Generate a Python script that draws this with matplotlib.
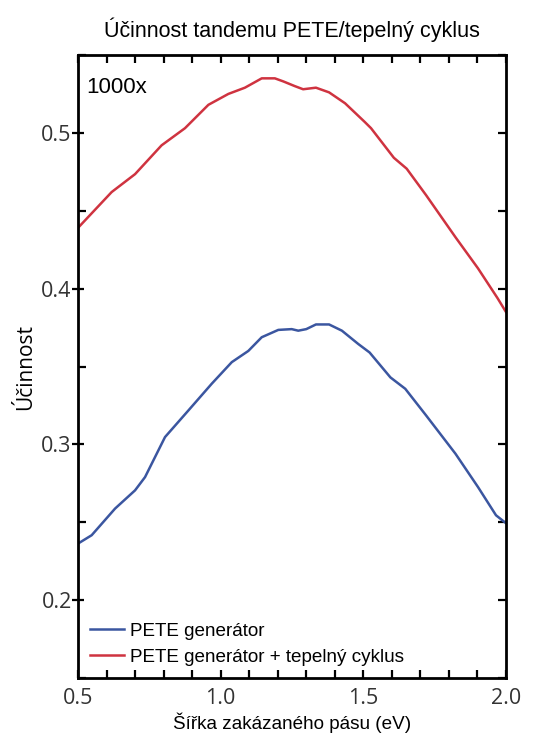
import numpy as np
import matplotlib
matplotlib.use("Agg")
import matplotlib.pyplot as plt
import matplotlib.markers as mmarkers
from matplotlib.ticker import MultipleLocator

# band gap (eV) and efficiency
gap_tandem = [0.50, 0.618, 0.70, 0.793, 0.875, 0.957, 1.027, 1.085, 1.144, 1.19,
              1.22, 1.26, 1.289, 1.334, 1.38, 1.436, 1.505, 1.527, 1.607, 1.652,
              1.72, 1.823, 1.902, 1.97, 2.0]
eff_tandem = [0.439, 0.462, 0.4735, 0.492, 0.503, 0.518, 0.525, 0.529, 0.535, 0.535,
              0.533, 0.530, 0.528, 0.529, 0.526, 0.519, 0.507, 0.503, 0.484, 0.477,
              0.460, 0.433, 0.413, 0.394, 0.385]

gap_pete = [0.50, 0.548, 0.63, 0.70, 0.735, 0.805, 0.887, 0.969, 1.039, 1.097,
            1.144, 1.202, 1.249, 1.272, 1.30, 1.334, 1.38, 1.425, 1.482, 1.522,
            1.595, 1.647, 1.72, 1.823, 1.902, 1.965, 2.0]
eff_pete = [0.2363, 0.2417, 0.2588, 0.2705, 0.279, 0.3047, 0.3218, 0.339, 0.3528, 0.360,
            0.3688, 0.3735, 0.374, 0.373, 0.374, 0.377, 0.377, 0.373, 0.3645, 0.359,
            0.343, 0.3357, 0.3186, 0.294, 0.2726, 0.2545, 0.2494]

blue = "#3b56a0"
red = "#cf3340"
arial = "Liberation Sans"
tickfont = "Open Sans"

fig = plt.figure(figsize=(5.36, 7.37), dpi=100)
ax = fig.add_axes([0.1455, 0.080, 0.7985, 0.8454])

ax.plot(gap_pete, eff_pete, color=blue, linewidth=1.8, label="PETE generátor")
ax.plot(gap_tandem, eff_tandem, color=red, linewidth=1.8,
        label="PETE generátor + tepelný cyklus")

ax.set_xlim(0.5, 2.0)
ax.set_ylim(0.15, 0.55)
ax.xaxis.set_minor_locator(MultipleLocator(0.1))
ax.yaxis.set_minor_locator(MultipleLocator(0.05))
ax.set_yticks([0.2, 0.3, 0.4, 0.5])
ax.set_xticks([0.5, 1.0, 1.5, 2.0])
ax.set_xticklabels(["0.5", "1.0", "1.5", "2.0"])
ax.set_yticklabels(["0.2", "0.3", "0.4", "0.5"])

ax.tick_params(which="both", direction="in", top=True, right=True,
               width=1.6, length=6, labelsize=15.5)
ax.tick_params(axis="x", pad=7)
# left major ticks cross the axis, right ones point inward
ax.tick_params(axis="y", which="major", direction="inout", length=9, pad=0)
for t in ax.yaxis.get_major_ticks():
    t.tick2line.set_marker(mmarkers.TICKLEFT)
    t.tick2line.set_markersize(6)
for lab in ax.get_xticklabels() + ax.get_yticklabels():
    lab.set_fontfamily(tickfont)
    lab.set_color("#333333")
for sp in ax.spines.values():
    sp.set_linewidth(2)

ax.set_title("Účinnost tandemu PETE/tepelný cyklus", fontsize=15.5,
             family=arial, pad=13)
ax.set_xlabel("Šířka zakázaného pásu (eV)", fontsize=13.6, family=arial, labelpad=3)
ax.set_ylabel("Účinnost", fontsize=15, family=tickfont, labelpad=4)

ax.text(0.02, 0.965, "1000x", transform=ax.transAxes, fontsize=16,
        family=arial, va="top", ha="left")

leg = ax.legend(loc="lower left", frameon=False, handlelength=1.8,
                handletextpad=0.3, borderaxespad=0.45, labelspacing=0.45,
                borderpad=0.2, prop={"family": arial, "size": 13.6})

fig.savefig("out.png", dpi=100)
